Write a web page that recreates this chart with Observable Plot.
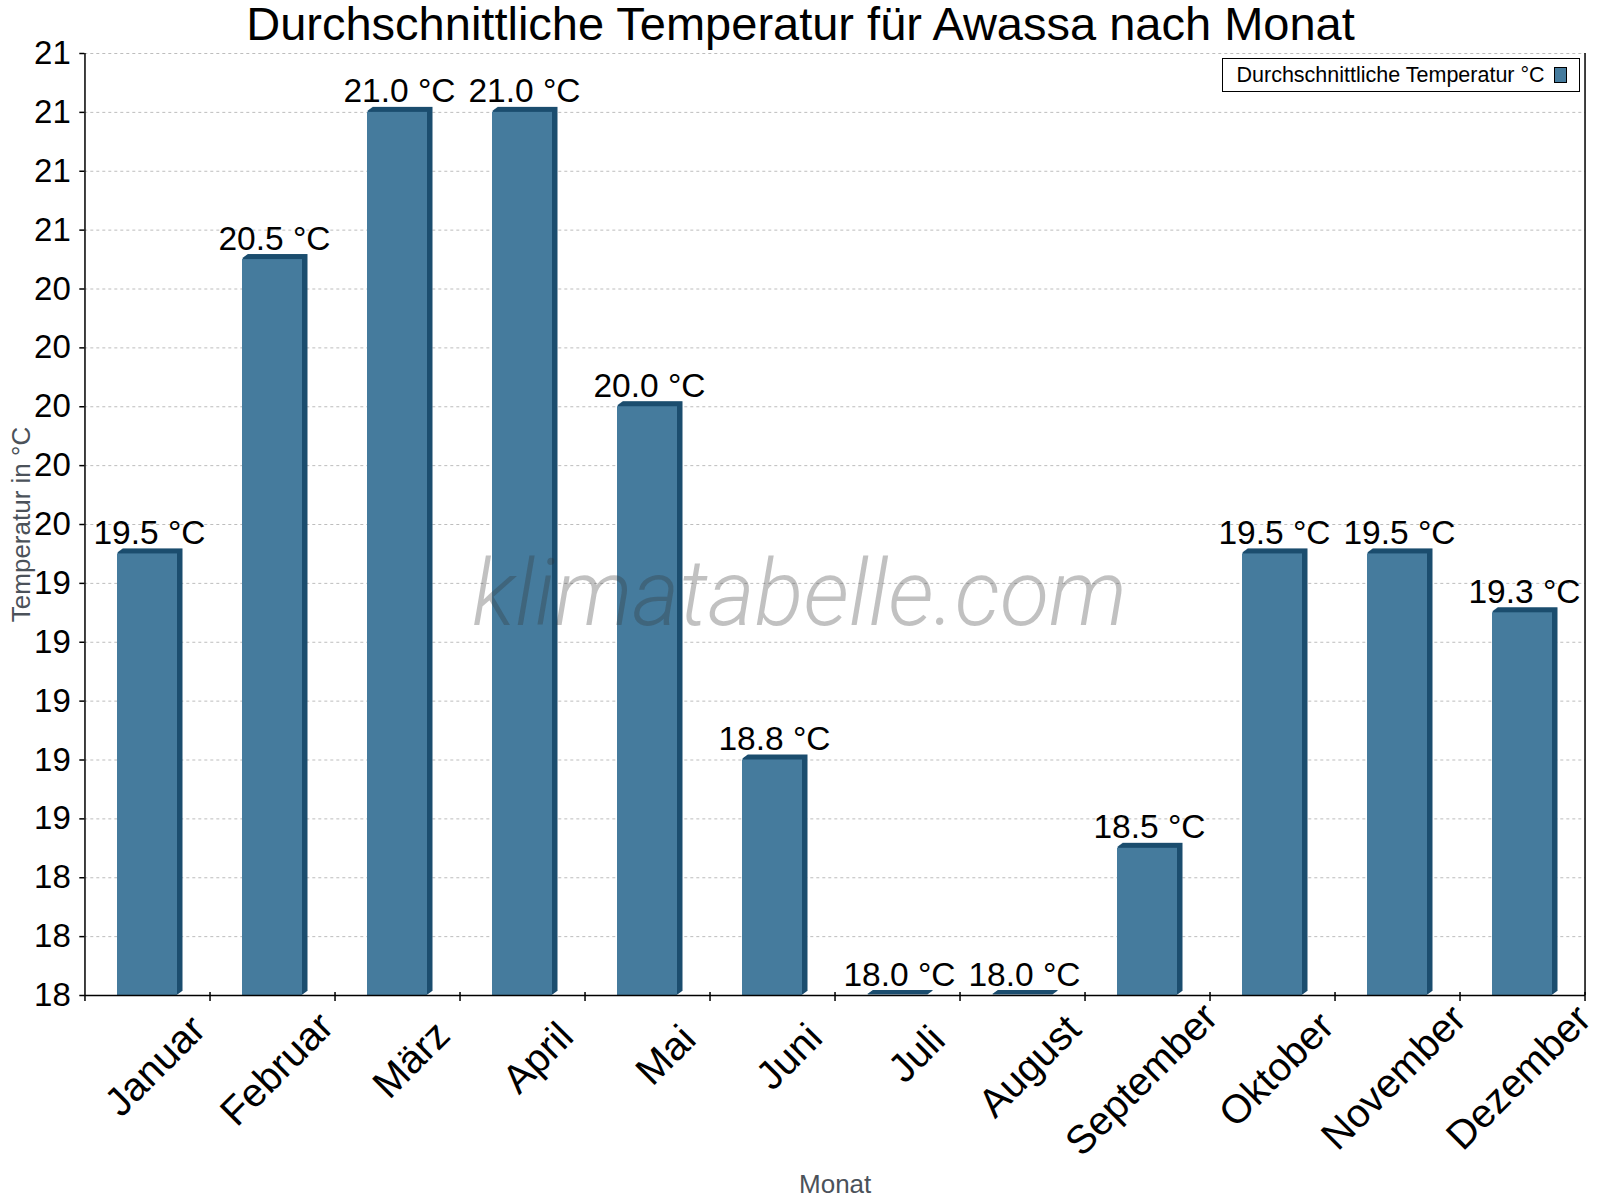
<!DOCTYPE html>
<html>
<head>
<meta charset="utf-8">
<script src="https://cdn.jsdelivr.net/npm/d3@7"></script>
<script src="https://cdn.jsdelivr.net/npm/@observablehq/plot@0.6"></script>
<style>
  body { margin: 0; background: #fff; }
  #wrap { position: relative; width: 1600px; height: 1200px; }
  #legend {
    position: absolute; left: 1222px; top: 58px; width: 358px; height: 34px;
    border: 1.5px solid #000; box-sizing: border-box; background: #fff;
    font-family: "Liberation Sans", Arial, Helvetica, sans-serif; font-size: 21.5px;
    display: flex; align-items: center; padding-left: 13.5px; color: #000; white-space: nowrap;
  }
  #swatch {
    position: absolute; left: 330.5px; top: 7.5px; width: 13px; height: 16px;
    border: 1px solid #000; box-sizing: border-box; background: #457b9d;
  }
</style>
</head>
<body>
<div id="wrap">
  <div id="legend"><span id="legtext"></span><span id="swatch"></span></div>
</div>
<script>
const title = "Durchschnittliche Temperatur für Awassa nach Monat";
const seriesName = "Durchschnittliche Temperatur °C";
const yLabel = "Temperatur in °C";
const xLabel = "Monat";
const watermark = "klimatabelle.com";

const months = ["Januar", "Februar", "März", "April", "Mai", "Juni", "Juli", "August", "September", "Oktober", "November", "Dezember"];
const temps = [19.5, 20.5, 21.0, 21.0, 20.0, 18.8, 18.0, 18.0, 18.5, 19.5, 19.5, 19.3];
const yTicks = [18, 18.2, 18.4, 18.6, 18.8, 19, 19.2, 19.4, 19.6, 19.8, 20, 20.2, 20.4, 20.6, 20.8, 21, 21.2];
const yTickLabels = ["18", "18", "18", "19", "19", "19", "19", "19", "20", "20", "20", "20", "20", "21", "21", "21", "21"];

const data = months.map((m, i) => ({month: m, temp: temps[i]}));

const W = 1600, H = 1200, mL = 84.3, mR = 15, mT = 53, mB = 205;
const step = (W - mL - mR) / months.length;
const font = "'Liberation Sans', Arial, Helvetica, sans-serif";
const front = "#457b9d", dark = "#1b4d6e";
const layers = d3.range(1, 9).map(k => ({dx: 5.5 * k / 8, dy: -4 * k / 8}));
const frameCx = mL + (W - mL - mR) / 2;
const frameCy = mT + (H - mT - mB) / 2;

// month labels: rotated -45deg, anchored at ~76% along their baseline
const monthFont = 40;
const ctx = document.createElement("canvas").getContext("2d");
ctx.font = `${monthFont}px 'Liberation Sans', Arial, sans-serif`;
const c45 = Math.SQRT1_2;
const monthMarks = months.map(m => {
  const L = ctx.measureText(m).width;
  const along = 0.762 * L * c45;
  return Plot.text([m], {x: d => d, frameAnchor: "bottom", text: d => d, rotate: -45,
    textAnchor: "start", lineAnchor: "bottom", dx: 39.6 - along, dy: 57 + along,
    fontSize: monthFont, fill: "#000"});
});

document.getElementById("legtext").textContent = seriesName;

const chart = Plot.plot({
  width: W, height: H,
  marginLeft: mL, marginRight: mR, marginTop: mT, marginBottom: mB,
  style: {fontFamily: font, background: "#fff", color: "#000", overflow: "visible"},
  x: {type: "band", domain: months, paddingInner: 0.52, paddingOuter: 0.26, axis: null, label: null},
  y: {domain: [18, 21.2], axis: null, label: null},
  marks: [
    Plot.gridY(yTicks, {stroke: "#bdbdbd", strokeOpacity: 1, strokeDasharray: "3,3"}),
    ...layers.map(o => Plot.barY(data, {x: "month", y1: 18, y2: "temp", fill: dark, dx: o.dx, dy: o.dy, insetTop: -1})),
    Plot.barY(data, {x: "month", y1: 18, y2: "temp", fill: front}),
    Plot.text([watermark], {frameAnchor: "middle", lineAnchor: "bottom", dx: 799 - frameCx, dy: 624 - frameCy,
      fontSize: 92, fontStyle: "italic", fontWeight: 300, fontFamily: "Roboto, 'Open Sans', sans-serif",
      fill: "#333", fillOpacity: 0.3}),
    Plot.ruleY([18], {stroke: "#000", strokeWidth: 1.5}),
    Plot.ruleX([months[0]], {dx: -step / 2, insetBottom: -6, stroke: "#000", strokeWidth: 1.5}),
    Plot.ruleX([months[months.length - 1]], {dx: step / 2, stroke: "#000", strokeWidth: 1.5}),
    Plot.ruleX(months, {dx: step / 2, y1: 18, y2: 18, insetTop: -3, insetBottom: -6, stroke: "#000", strokeWidth: 1.5}),
    Plot.axisY(yTicks, {anchor: "left", tickSize: 5, tickPadding: 9, fontSize: 33, stroke: "#000", strokeWidth: 1.5,
      label: null, tickFormat: d => yTickLabels[yTicks.indexOf(d)]}),
    Plot.text(data, {x: "month", y: "temp", text: d => d.temp.toFixed(1) + " °C", lineAnchor: "bottom",
      dy: -10, dx: 2, fontSize: 33.5, fill: "#000"}),
    ...monthMarks,
    Plot.text([yLabel], {frameAnchor: "left", rotate: -90, textAnchor: "middle", lineAnchor: "middle",
      dx: -63, fontSize: 26, fill: "#4b525a"}),
    Plot.text([xLabel], {frameAnchor: "bottom", lineAnchor: "bottom", dy: 197, fontSize: 26, fill: "#4b525a"}),
    Plot.text([title], {frameAnchor: "top", lineAnchor: "bottom", dx: 800 - frameCx, dy: 39 - mT, fontSize: 47, fill: "#000"})
  ]
});

d3.select(chart).selectAll("text").filter(function() { return this.textContent === watermark; })
  .attr("textLength", 655).attr("lengthAdjust", "spacingAndGlyphs");

const wrap = document.getElementById("wrap");
wrap.insertBefore(chart, wrap.firstChild);
chart.style.position = "absolute";
chart.style.left = "0px";
chart.style.top = "0px";
</script>
</body>
</html>
